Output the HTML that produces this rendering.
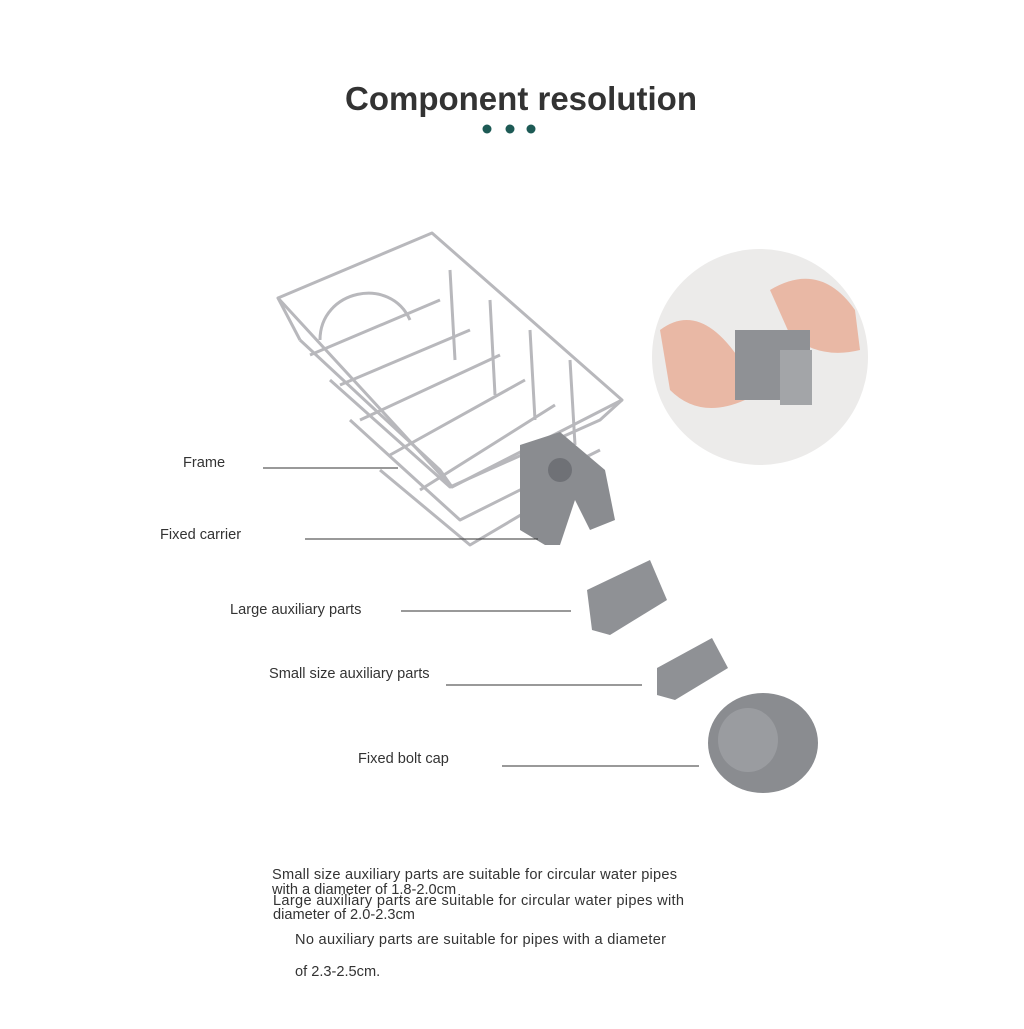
<!DOCTYPE html>
<html><head><meta charset="utf-8"><style>
body{margin:0;background:#fff;width:1024px;height:1024px;overflow:hidden;font-family:"Liberation Sans",sans-serif}
</style></head><body>
<svg width="1024" height="1024" viewBox="0 0 1024 1024" xmlns="http://www.w3.org/2000/svg">
<rect width="1024" height="1024" fill="#fff"/>
<text x="521" y="110" text-anchor="middle" font-family="Liberation Sans, sans-serif" font-weight="bold" font-size="33" fill="#333">Component resolution</text>
<circle cx="487" cy="129" r="4.5" fill="#1d5a55"/><circle cx="510" cy="129" r="4.5" fill="#1d5a55"/><circle cx="531" cy="129" r="4.5" fill="#1d5a55"/>
<!-- basket -->
<g stroke="#b8b8bc" stroke-width="3" fill="none" stroke-linejoin="round">
<path d="M278 298 L432 233 L622 400 L452 487 Z"/>
<path d="M300 340 L440 470 L452 487"/>
<path d="M300 340 L278 298"/>
<path d="M330 380 L450 487 L600 420 L622 400"/>
<path d="M350 420 L460 520 L600 450"/>
<path d="M380 470 L470 545 L580 480"/>
<path d="M320 340 C320 290 390 275 410 320"/>
<path d="M310 355 L440 300 M340 385 L470 330 M360 420 L500 355 M390 455 L525 380 M420 490 L555 405"/>
<path d="M450 270 L455 360 M490 300 L495 395 M530 330 L535 420 M570 360 L575 445"/>
</g>
<!-- carrier -->
<path d="M520 445 L560 432 L605 470 L615 520 L590 530 L575 500 L560 545 L545 545 L520 530 Z" fill="#8a8c90"/>
<circle cx="560" cy="470" r="12" fill="#6f7176"/>
<!-- large aux -->
<path d="M587 590 L650 560 L667 600 L610 635 L592 630 Z" fill="#8f9195"/>
<!-- small aux -->
<path d="M657 668 L712 638 L728 668 L675 700 L657 695 Z" fill="#8f9195"/>
<!-- bolt cap -->
<ellipse cx="763" cy="743" rx="55" ry="50" fill="#8a8c90"/>
<ellipse cx="748" cy="740" rx="30" ry="32" fill="#9a9ca0"/>
<!-- photo circle -->
<circle cx="760" cy="357" r="108" fill="#ecebea"/>
<path d="M660 330 Q700 300 740 360 L745 400 Q700 420 670 390 Z" fill="#e9b8a5"/>
<path d="M770 290 Q820 260 855 310 L860 350 Q820 360 790 335 Z" fill="#e9b8a5"/>
<rect x="735" y="330" width="75" height="70" fill="#8f9195"/>
<rect x="780" y="350" width="32" height="55" fill="#a3a5a8"/>
<!-- labels -->
<g font-family="Liberation Sans, sans-serif" font-size="14.6" fill="#333">
<text x="183" y="467">Frame</text>
<text x="160" y="539">Fixed carrier</text>
<text x="230" y="614">Large auxiliary parts</text>
<text x="269" y="678">Small size auxiliary parts</text>
<text x="358" y="763">Fixed bolt cap</text>
</g>
<g stroke="#333" stroke-width="1">
<line x1="263" y1="468" x2="398" y2="468"/>
<line x1="305" y1="539" x2="538" y2="539"/>
<line x1="401" y1="611" x2="571" y2="611"/>
<line x1="446" y1="685" x2="642" y2="685"/>
<line x1="502" y1="766" x2="699" y2="766"/>
</g>
<g font-family="Liberation Sans, sans-serif" font-size="14.6" fill="#333">
<text x="272" y="879" textLength="405">Small size auxiliary parts are suitable for circular water pipes</text>
<text x="272" y="894">with a diameter of 1.8-2.0cm</text>
<text x="273" y="905" textLength="411">Large auxiliary parts are suitable for circular water pipes with</text>
<text x="273" y="919">diameter of 2.0-2.3cm</text>
<text x="295" y="944" textLength="371">No auxiliary parts are suitable for pipes with a diameter</text>
<text x="295" y="976">of 2.3-2.5cm.</text>
</g>
</svg>
</body></html>
